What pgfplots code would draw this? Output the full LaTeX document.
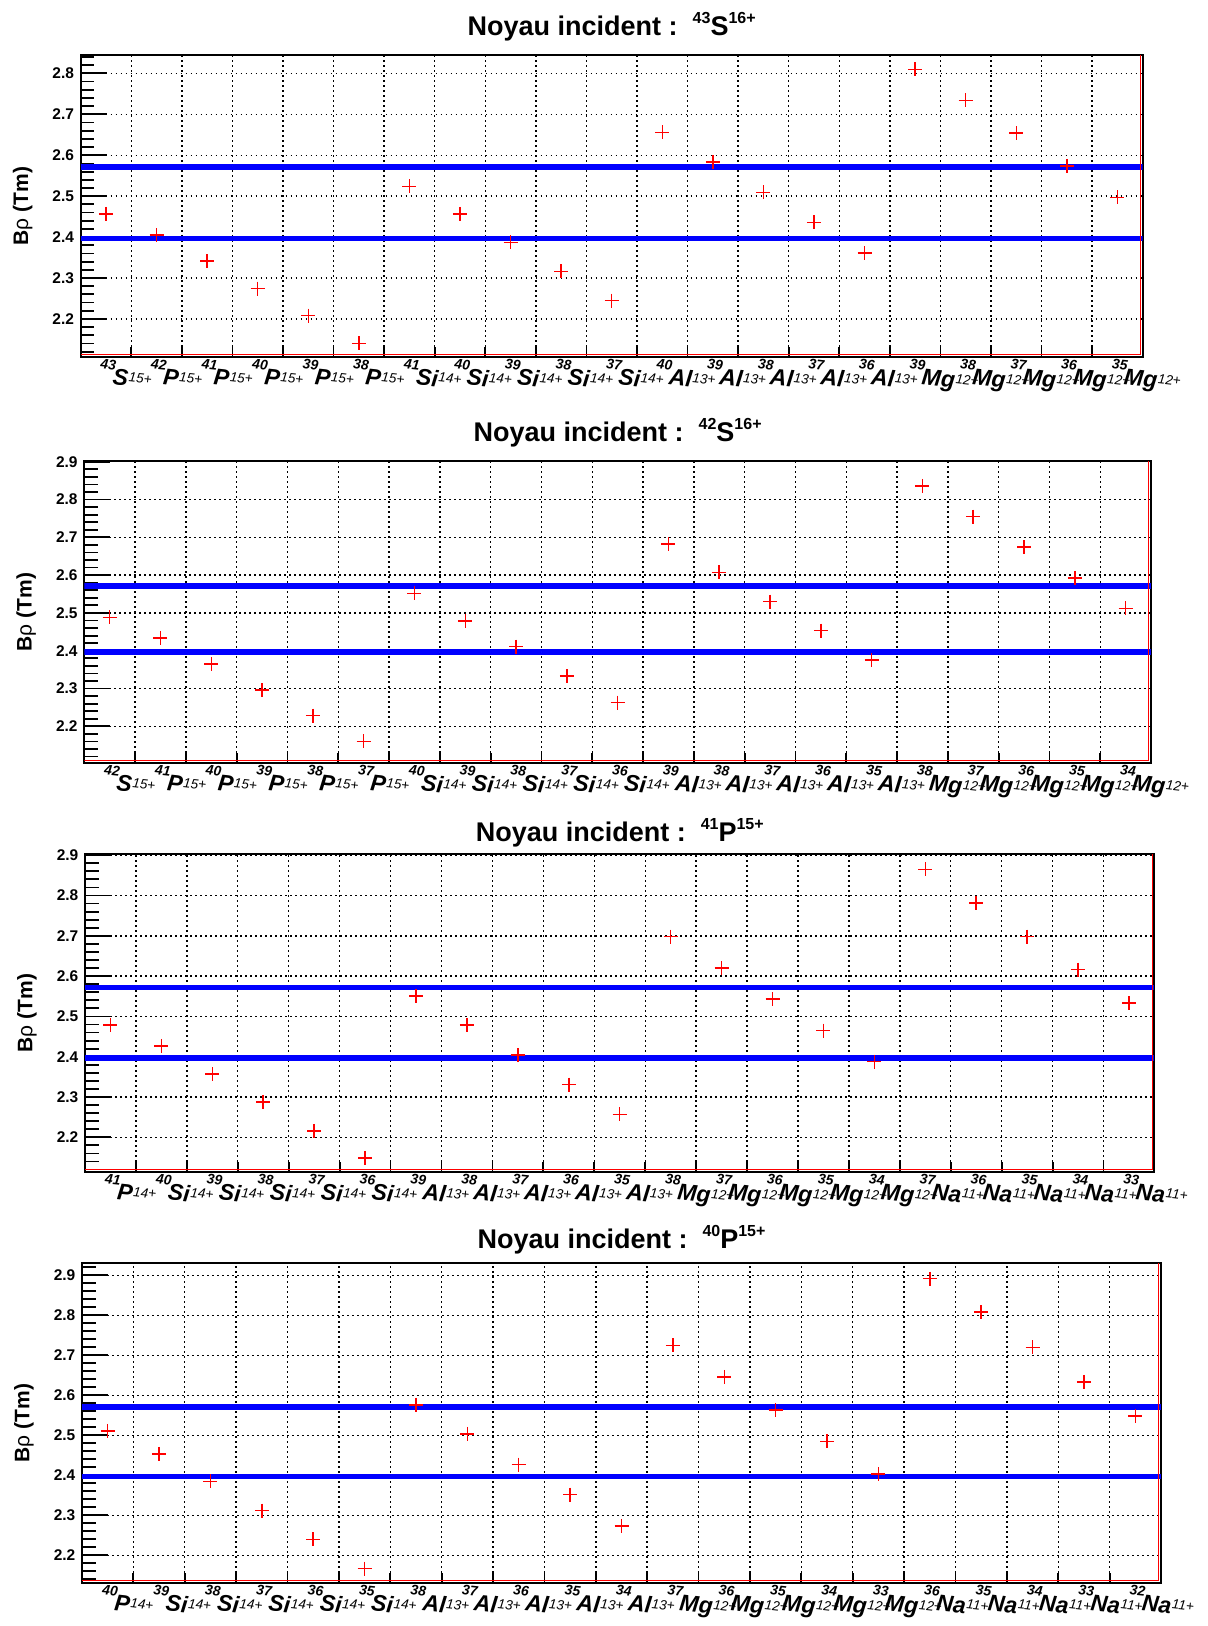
\documentclass[border=0pt]{standalone}
\usepackage{fontspec}
\setmainfont{Liberation Sans}
\usepackage{pgfplots}
\usepackage{pgfplotstable}
\pgfplotsset{compat=1.18}

\pgfplotstableread{
x y
0.5 2.457
1.5 2.405
2.5 2.341
3.5 2.274
4.5 2.208
5.5 2.140
6.5 2.524
7.5 2.457
8.5 2.387
9.5 2.316
10.5 2.245
11.5 2.656
12.5 2.583
13.5 2.509
14.5 2.436
15.5 2.361
16.5 2.810
17.5 2.734
18.5 2.654
19.5 2.574
20.5 2.497
}\tA
\pgfplotstableread{
x y
0.5 2.488
1.5 2.434
2.5 2.365
3.5 2.296
4.5 2.228
5.5 2.160
6.5 2.552
7.5 2.479
8.5 2.411
9.5 2.333
10.5 2.263
11.5 2.682
12.5 2.607
13.5 2.530
14.5 2.453
15.5 2.376
16.5 2.836
17.5 2.755
18.5 2.674
19.5 2.593
20.5 2.512
}\tB
\pgfplotstableread{
x y
0.5 2.479
1.5 2.427
2.5 2.357
3.5 2.288
4.5 2.216
5.5 2.149
6.5 2.551
7.5 2.479
8.5 2.404
9.5 2.331
10.5 2.257
11.5 2.698
12.5 2.620
13.5 2.543
14.5 2.465
15.5 2.388
16.5 2.865
17.5 2.781
18.5 2.698
19.5 2.616
20.5 2.533
}\tC
\pgfplotstableread{
x y
0.5 2.511
1.5 2.454
2.5 2.385
3.5 2.312
4.5 2.240
5.5 2.167
6.5 2.576
7.5 2.504
8.5 2.427
9.5 2.352
10.5 2.274
11.5 2.725
12.5 2.646
13.5 2.563
14.5 2.485
15.5 2.403
16.5 2.892
17.5 2.808
18.5 2.720
19.5 2.634
20.5 2.548
}\tD

\newcommand\lab[3]{\raisebox{15pt}{\fontsize{14}{14}\selectfont\bfseries\itshape #1}\kern-2pt{\fontsize{23}{23}\selectfont\bfseries\itshape #2}\kern0.5pt\raisebox{5pt}{\fontsize{13.5}{13.5}\selectfont\itshape #3+}}
\newcommand\ttl[3]{\fontsize{27}{27}\selectfont\bfseries Noyau incident :\ \ \raisebox{12pt}{\fontsize{16}{16}\selectfont #1}#2\raisebox{12pt}{\fontsize{16}{16}\selectfont #3+}}

\pgfplotsset{
  bro/.style={
    scale only axis,
    enlargelimits=false,
    xmin=0, xmax=21,
    xtick={0,...,21}, xticklabels={},
    extra x ticks={0.5,1.5,...,20.5},
    extra x tick style={grid=none, tick style={draw=none}},
    ytick={2.2,2.3,...,2.9},
    minor ytick={2.10,2.12,...,2.94},
    tick pos=left, tick align=inside,
    major tick length=26pt, minor tick length=13.6pt,
    xtick style={/pgfplots/major tick length=9.5pt},
    grid=major,
    major grid style={black, line width=1.4pt, dash pattern=on 1.6pt off 3.4pt},
    axis line style={black, line width=2pt},
    every tick/.style={black, line width=1.8pt},
    /pgf/number format/assume math mode=true,
    yticklabel style={font=\fontsize{15.5}{15.5}\selectfont\bfseries, anchor=east, inner sep=0pt, xshift=-6.5pt,
      /pgf/number format/.cd, fixed, fixed zerofill, precision=1},
    xticklabel style={anchor=north west, inner sep=0pt, yshift=-1.5pt, xshift=-5pt, rotate=-6},
    ylabel={B{\mdseries ρ} (Tm)},
    every axis y label/.style={at={([xshift=-58pt]axis description cs:0,0.5)}, anchor=center, rotate=90,
      font=\fontsize{21}{21}\selectfont\bfseries},
    every axis title/.style={at={(axis description cs:0.5,1)}, anchor=base},
  },
  pts/.style={only marks, mark=+, mark size=7pt, red, mark options={line width=1.5pt}},
  bl/.style={blue, line width=5.5pt, forget plot},
}

\newcommand\redframe{\draw[red, line width=1.3pt] ([yshift=2.2pt]rel axis cs:0,0) -- ([xshift=-2.2pt,yshift=2.2pt]rel axis cs:1,0) -- ([xshift=-2.2pt]rel axis cs:1,1);}

\begin{document}
\begin{tikzpicture}
\useasboundingbox (0pt,0pt) rectangle (1208pt,1626pt);

\begin{axis}[bro, at={(80.7pt,1571pt)}, anchor=north west, width=1062pt, height=302pt,
  ymin=2.107, ymax=2.845,
  title={\ttl{43}{S}{16}}, title style={yshift=19pt},
  extra x tick labels={\lab{43}{S}{15},\lab{42}{P}{15},\lab{41}{P}{15},\lab{40}{P}{15},\lab{39}{P}{15},\lab{38}{P}{15},\lab{41}{Si}{14},\lab{40}{Si}{14},\lab{39}{Si}{14},\lab{38}{Si}{14},\lab{37}{Si}{14},\lab{40}{Al}{13},\lab{39}{Al}{13},\lab{38}{Al}{13},\lab{37}{Al}{13},\lab{36}{Al}{13},\lab{39}{Mg}{12},\lab{38}{Mg}{12},\lab{37}{Mg}{12},\lab{36}{Mg}{12},\lab{35}{Mg}{12}}]
\addplot[pts] table {\tA};
\addplot[bl] coordinates {(0,2.5715) (21,2.5715)};
\addplot[bl] coordinates {(0,2.397) (21,2.397)};
\redframe
\end{axis}

\begin{axis}[bro, at={(84.3pt,1165pt)}, anchor=north west, width=1066.7pt, height=302pt,
  ymin=2.103, ymax=2.902,
  title={\ttl{42}{S}{16}}, title style={yshift=19pt},
  extra x tick labels={\lab{42}{S}{15},\lab{41}{P}{15},\lab{40}{P}{15},\lab{39}{P}{15},\lab{38}{P}{15},\lab{37}{P}{15},\lab{40}{Si}{14},\lab{39}{Si}{14},\lab{38}{Si}{14},\lab{37}{Si}{14},\lab{36}{Si}{14},\lab{39}{Al}{13},\lab{38}{Al}{13},\lab{37}{Al}{13},\lab{36}{Al}{13},\lab{35}{Al}{13},\lab{38}{Mg}{12},\lab{37}{Mg}{12},\lab{36}{Mg}{12},\lab{35}{Mg}{12},\lab{34}{Mg}{12}}]
\addplot[pts] table {\tB};
\addplot[bl] coordinates {(0,2.5715) (21,2.5715)};
\addplot[bl] coordinates {(0,2.397) (21,2.397)};
\redframe
\end{axis}

\begin{axis}[bro, at={(85pt,772pt)}, anchor=north west, width=1069.5pt, height=318pt,
  ymin=2.114, ymax=2.903,
  title={\ttl{41}{P}{15}}, title style={yshift=12.5pt},
  extra x tick labels={\lab{41}{P}{14},\lab{40}{Si}{14},\lab{39}{Si}{14},\lab{38}{Si}{14},\lab{37}{Si}{14},\lab{36}{Si}{14},\lab{39}{Al}{13},\lab{38}{Al}{13},\lab{37}{Al}{13},\lab{36}{Al}{13},\lab{35}{Al}{13},\lab{38}{Mg}{12},\lab{37}{Mg}{12},\lab{36}{Mg}{12},\lab{35}{Mg}{12},\lab{34}{Mg}{12},\lab{37}{Na}{11},\lab{36}{Na}{11},\lab{35}{Na}{11},\lab{34}{Na}{11},\lab{33}{Na}{11}}]
\addplot[pts] table {\tC};
\addplot[bl] coordinates {(0,2.5715) (21,2.5715)};
\addplot[bl] coordinates {(0,2.397) (21,2.397)};
\redframe
\end{axis}

\begin{axis}[bro, at={(82pt,363pt)}, anchor=north west, width=1079pt, height=320pt,
  ymin=2.131, ymax=2.931,
  title={\ttl{40}{P}{15}}, title style={yshift=14.5pt},
  extra x tick labels={\lab{40}{P}{14},\lab{39}{Si}{14},\lab{38}{Si}{14},\lab{37}{Si}{14},\lab{36}{Si}{14},\lab{35}{Si}{14},\lab{38}{Al}{13},\lab{37}{Al}{13},\lab{36}{Al}{13},\lab{35}{Al}{13},\lab{34}{Al}{13},\lab{37}{Mg}{12},\lab{36}{Mg}{12},\lab{35}{Mg}{12},\lab{34}{Mg}{12},\lab{33}{Mg}{12},\lab{36}{Na}{11},\lab{35}{Na}{11},\lab{34}{Na}{11},\lab{33}{Na}{11},\lab{32}{Na}{11}}]
\addplot[pts] table {\tD};
\addplot[bl] coordinates {(0,2.5715) (21,2.5715)};
\addplot[bl] coordinates {(0,2.397) (21,2.397)};
\redframe
\end{axis}
\end{tikzpicture}
\end{document}
